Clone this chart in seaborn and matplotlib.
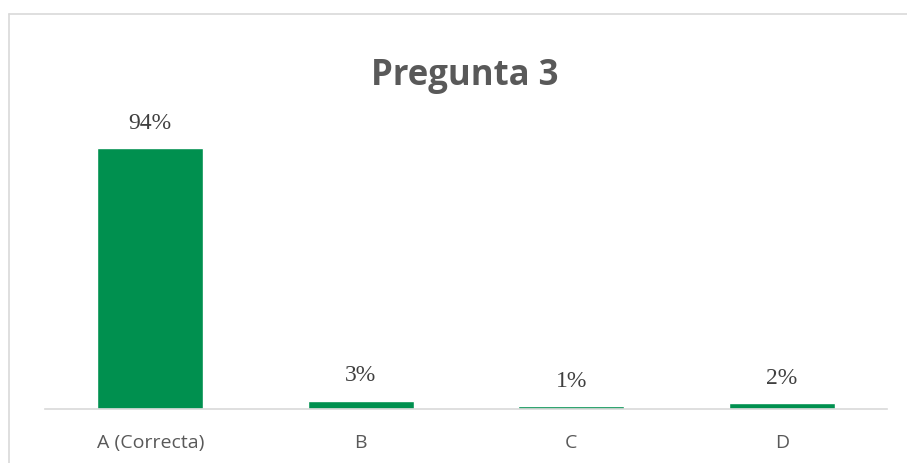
import matplotlib
matplotlib.use("Agg")
import matplotlib.pyplot as plt
import seaborn as sns
import pandas as pd
from matplotlib.lines import Line2D

categorias = ["A (Correcta)", "B", "C", "D"]
porcentajes = [94, 3, 1, 2]

df = pd.DataFrame({"respuesta": categorias, "porcentaje": porcentajes})

sns.set_style("white")
plt.rcParams["font.family"] = ["Open Sans", "DejaVu Sans"]

fig = plt.figure(figsize=(9.07, 4.64), dpi=100)
ax = fig.add_axes([45 / 907, 54 / 464, 842 / 907, 277.7 / 464])

sns.barplot(data=df, x="respuesta", y="porcentaje", color="#00904F",
            width=0.505, saturation=1, ax=ax)

ax.set_ylim(0, 100)
ax.set_xlim(-0.5, 3.5)
ax.set_xlabel("")
ax.set_ylabel("")
ax.set_yticks([])
for s in ["top", "right", "left"]:
    ax.spines[s].set_visible(False)
ax.spines["bottom"].set_color("#D9D9D9")
ax.spines["bottom"].set_linewidth(1.2)
ax.tick_params(axis="x", length=0, pad=17, labelsize=14, labelcolor="#595959")

for i, v in enumerate(porcentajes):
    ax.text(i, v + 5.5, f"{v}%", ha="center", va="bottom", fontsize=17,
            family="Liberation Serif", color="#404040", clip_on=False)

fig.text(465 / 907, 1 - 76 / 464, "Pregunta 3", ha="center", va="center",
         fontsize=25, fontweight="bold", color="#595959")

# marco del gráfico
fig.add_artist(Line2D([9 / 907, 9 / 907], [0, 1 - 15 / 464], color="#D9D9D9", lw=1.2))
fig.add_artist(Line2D([9 / 907, 1], [1 - 15 / 464, 1 - 15 / 464], color="#D9D9D9", lw=1.2))

fig.savefig("out.png", dpi=100)
